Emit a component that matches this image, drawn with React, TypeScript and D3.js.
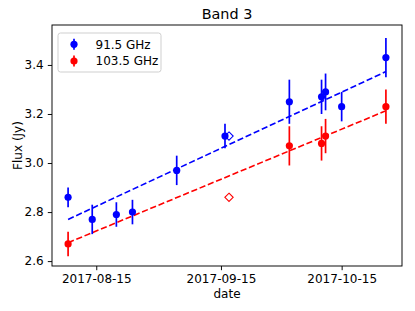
import { useEffect, useRef } from 'react'
import * as d3 from 'd3'

// 91.5 GHz observations
const blueDates = ['2017-08-08', '2017-08-14', '2017-08-20', '2017-08-24', '2017-09-04', '2017-09-16', '2017-10-02', '2017-10-10', '2017-10-11', '2017-10-15', '2017-10-26']
const blueFlux = [2.86, 2.77, 2.79, 2.8, 2.97, 3.11, 3.25, 3.27, 3.29, 3.23, 3.43]
const blueErr = [0.04, 0.06, 0.05, 0.05, 0.06, 0.05, 0.09, 0.07, 0.075, 0.06, 0.08]

// 103.5 GHz observations
const redDates = ['2017-08-08', '2017-10-02', '2017-10-10', '2017-10-11', '2017-10-26']
const redFlux = [2.67, 3.07, 3.08, 3.11, 3.23]
const redErr = [0.05, 0.08, 0.07, 0.07, 0.07]

// open diamonds
const diamondDate = '2017-09-17'
const diamondBlue = 3.11
const diamondRed = 2.86

// fitted trend lines (endpoints)
const fitDates = ['2017-08-08', '2017-10-26']
const blueFit = [2.77, 3.373]
const redFit = [2.675, 3.213]

const xTicks = ['2017-08-15', '2017-09-15', '2017-10-15']
const yTicks = [2.6, 2.8, 3.0, 3.2, 3.4]
const xDomain = ['2017-08-04', '2017-10-30']
const yDomain = [2.58, 3.563]

const BLUE = '#0000ff'
const RED = '#ff0000'

export default function App() {
  const svgRef = useRef<SVGSVGElement>(null)

  useEffect(() => {
    if (!svgRef.current) return
    const svg = d3.select(svgRef.current)
    svg.selectAll('*').remove()

    const margin = { top: 25, right: 13, bottom: 45, left: 52 }
    const W = 415
    const H = 311
    const width = W - margin.left - margin.right
    const height = H - margin.top - margin.bottom
    const font = 'DejaVu Sans, sans-serif'

    const parse = d3.timeParse('%Y-%m-%d')
    const pd = (s: string) => parse(s) as Date

    const x = d3
      .scaleTime()
      .domain([pd(xDomain[0]), pd(xDomain[1])])
      .range([0, width])
    const y = d3.scaleLinear().domain(yDomain).range([height, 0])

    const g = svg.append('g').attr('transform', `translate(${margin.left},${margin.top})`)

    // fit lines
    const drawFit = (vals: number[], color: string) => {
      const pts = fitDates.map((d, i) => ({ t: pd(d), v: vals[i] }))
      const line = d3
        .line<{ t: Date; v: number }>()
        .x(d => x(d.t))
        .y(d => y(d.v))
      g.append('path')
        .datum(pts)
        .attr('fill', 'none')
        .attr('stroke', color)
        .attr('stroke-width', 1.6)
        .attr('stroke-dasharray', '6.2,2.7')
        .attr('d', line)
    }
    drawFit(blueFit, BLUE)
    drawFit(redFit, RED)

    const drawSeries = (dates: string[], flux: number[], err: number[], color: string) => {
      const data = dates.map((d, i) => ({ t: pd(d), v: flux[i], e: err[i] }))
      g.append('g')
        .selectAll('line')
        .data(data)
        .join('line')
        .attr('x1', d => x(d.t))
        .attr('x2', d => x(d.t))
        .attr('y1', d => y(d.v - d.e))
        .attr('y2', d => y(d.v + d.e))
        .attr('stroke', color)
        .attr('stroke-width', 1.7)
      g.append('g')
        .selectAll('circle')
        .data(data)
        .join('circle')
        .attr('cx', d => x(d.t))
        .attr('cy', d => y(d.v))
        .attr('r', 3.6)
        .attr('fill', color)
    }
    drawSeries(redDates, redFlux, redErr, RED)
    drawSeries(blueDates, blueFlux, blueErr, BLUE)

    // diamonds
    const diamond = d3.symbol().type(d3.symbolDiamond2).size(44)
    ;[
      { v: diamondBlue, c: BLUE },
      { v: diamondRed, c: RED }
    ].forEach(d => {
      g.append('path')
        .attr('d', diamond())
        .attr('transform', `translate(${x(pd(diamondDate))},${y(d.v)})`)
        .attr('fill', 'none')
        .attr('stroke', d.c)
        .attr('stroke-width', 1.1)
    })

    // frame
    g.append('rect')
      .attr('width', width)
      .attr('height', height)
      .attr('fill', 'none')
      .attr('stroke', '#000')
      .attr('stroke-width', 0.95)

    const styleAxis = (sel: d3.Selection<SVGGElement, unknown, null, undefined>) => {
      sel.select('.domain').remove()
      sel.selectAll('.tick line').attr('stroke', '#000').attr('stroke-width', 0.95)
      sel.selectAll('.tick text').attr('fill', '#000').attr('font-size', 12).attr('font-family', font)
    }

    g.append('g')
      .attr('transform', `translate(0,${height})`)
      .call(
        d3
          .axisBottom(x)
          .tickValues(xTicks.map(pd))
          .tickSize(4.2)
          .tickPadding(4.2)
          .tickFormat(d => d3.timeFormat('%Y-%m-%d')(d as Date))
      )
      .call(styleAxis)

    g.append('g')
      .call(
        d3
          .axisLeft(y)
          .tickValues(yTicks)
          .tickSize(4.2)
          .tickPadding(4.2)
          .tickFormat(d => d3.format('.1f')(d as number))
      )
      .call(styleAxis)

    // labels
    svg.append('text')
      .attr('x', margin.left + width / 2)
      .attr('y', 19)
      .attr('text-anchor', 'middle')
      .attr('font-size', 14.4)
      .attr('font-family', font)
      .text('Band 3')
    svg.append('text')
      .attr('x', margin.left + width / 2)
      .attr('y', 298)
      .attr('text-anchor', 'middle')
      .attr('font-size', 12)
      .attr('font-family', font)
      .text('date')
    svg.append('text')
      .attr('transform', `translate(22,${margin.top + height / 2}) rotate(-90)`)
      .attr('text-anchor', 'middle')
      .attr('font-size', 12)
      .attr('font-family', font)
      .text('Flux (Jy)')

    // legend
    const lg = g.append('g').attr('transform', 'translate(6,8)')
    lg.append('rect')
      .attr('width', 103)
      .attr('height', 39)
      .attr('rx', 2.5)
      .attr('fill', 'rgba(255,255,255,0.8)')
      .attr('stroke', '#cccccc')
      .attr('stroke-width', 0.95)
    const items = [
      { label: '91.5 GHz', c: BLUE },
      { label: '103.5 GHz', c: RED }
    ]
    items.forEach((it, i) => {
      const cy = 11.3 + i * 16.7
      lg.append('line')
        .attr('x1', 16)
        .attr('x2', 16)
        .attr('y1', cy - 5.5)
        .attr('y2', cy + 5.5)
        .attr('stroke', it.c)
        .attr('stroke-width', 1.7)
      lg.append('circle').attr('cx', 16).attr('cy', cy).attr('r', 3.6).attr('fill', it.c)
      lg.append('text')
        .attr('x', 37.5)
        .attr('y', cy + 4.3)
        .attr('font-size', 12)
        .attr('font-family', font)
        .text(it.label)
    })
  }, [])

  return (
    <div style={{ position: 'absolute', left: 0, top: 0 }}>
      <svg ref={svgRef} width={415} height={311} style={{ display: 'block', background: '#fff' }} />
    </div>
  )
}
